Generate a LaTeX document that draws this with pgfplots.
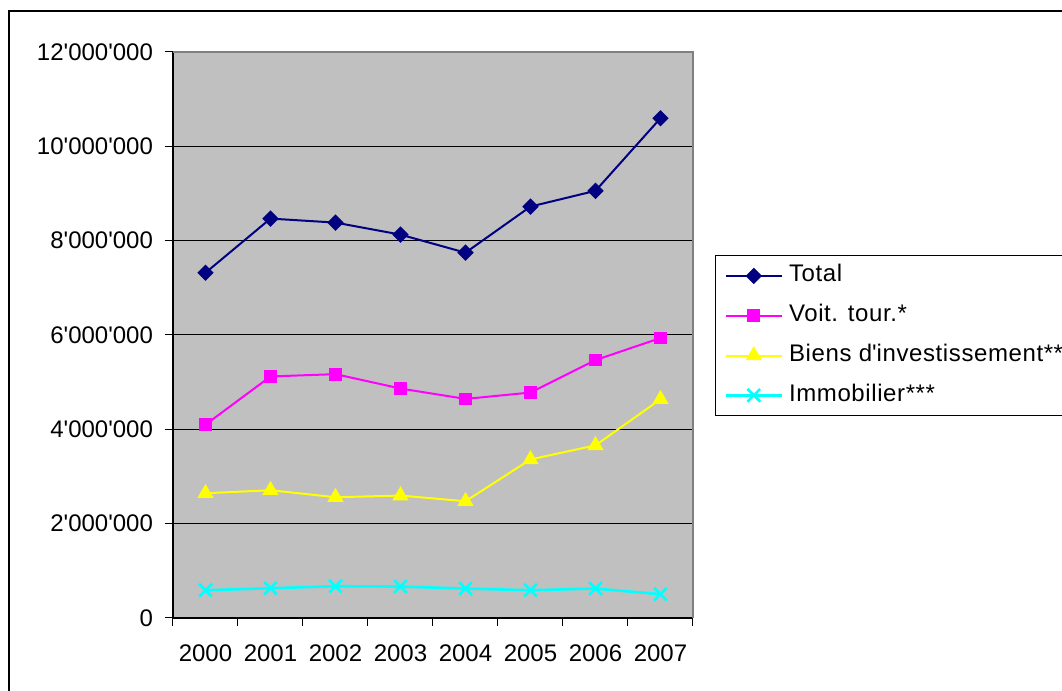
\documentclass[border=0pt]{standalone}
\usepackage{fontspec}
\setmainfont{Liberation Sans}
\newfontfamily\legendfont{Liberation Sans}[LetterSpace=2.5]
\usepackage{pgfplots}
\usepackage{pgfplotstable}
\pgfplotsset{compat=1.18}

\definecolor{xlnavy}{RGB}{0,0,128}
\definecolor{xlmagenta}{RGB}{255,0,255}
\definecolor{xlyellow}{RGB}{255,255,0}
\definecolor{xlcyan}{RGB}{0,255,255}
\definecolor{plotbg}{RGB}{192,192,192}
\definecolor{framegray}{RGB}{128,128,128}

% Imports by year; the categories span [0,1], [1,2], ... on the x axis
\pgfplotstableread{
x    total     voit     biens    immo
0.5  7319000   4099000  2645000  589000
1.5  8468000   5121000  2709000  631000
2.5  8383000   5170000  2560000  674000
3.5  8128000   4865000  2596000  667000
4.5  7745000   4645000  2475000  624000
5.5  8723000   4780000  3362000  589000
6.5  9057000   5468000  3660000  624000
7.5  10596000  5936000  4638000  504000
}\imports

\begin{document}
\begin{tikzpicture}
\begin{axis}[
  scale only axis, width=260pt, height=283pt,
  xmin=0, xmax=8, ymin=0, ymax=12000000,
  axis x line=bottom, axis y line=left,
  axis line style={-, black, line width=0.6pt},
  clip=false,
  axis background/.style={fill=plotbg},
  scaled y ticks=false,
  ytick={0,2000000,4000000,6000000,8000000,10000000,12000000},
  /pgf/number format/fixed,
  /pgf/number format/1000 sep={\textquotesingle},
  /pgf/number format/assume math mode=true,
  xtick={0,1,2,3,4,5,6,7,8},
  xticklabels={2000,2001,2002,2003,2004,2005,2006,2007,{}},
  xticklabel style={xshift=16.25pt, yshift=-6pt},
  yticklabel style={xshift=-2.5pt},
  tick align=outside,
  major tick length=4pt,
  tick style={black, line width=0.5pt},
  ymajorgrids,
  major grid style={black, line width=0.5pt},
  tick label style={font=\fontsize{12}{14}\selectfont},
  legend cell align=left,
  legend image code/.code={\draw[mark repeat=2,mark phase=2,#1]
      plot coordinates {(0pt,0pt) (14pt,0pt) (28pt,0pt)};},
  legend style={at={(axis description cs:1.0423,0.6413)}, anchor=north west,
      draw=black, line width=0.5pt, font=\legendfont\fontsize{12}{14}\selectfont,
      inner xsep=4.5pt, inner ysep=4.2pt, row sep=7.9pt, column sep=3pt,
      nodes={inner sep=0pt, text height=9pt, text depth=3pt}},
]
\addplot[xlnavy, line width=1pt, mark=square*, mark size=2.4pt,
  mark options={rotate=45, solid}] table[x=x, y=total] {\imports};
\addlegendentry{Total}
\addplot[xlmagenta, line width=1pt, mark=square*, mark size=2.7pt]
  table[x=x, y=voit] {\imports};
\addlegendentry{Voit. tour.*}
\addplot[xlyellow, line width=1pt, mark=triangle*, mark size=3.7pt]
  table[x=x, y=biens] {\imports};
\addlegendentry{Biens d\textquotesingle investissement**}
\addplot[xlcyan, line width=1.3pt, mark=x, mark size=4.5pt]
  table[x=x, y=immo] {\imports};
\addlegendentry{Immobilier***}
% grey top and right edge of the plot area
\draw[framegray, line width=0.6pt] (rel axis cs:0,1) -- (rel axis cs:1,1) -- (rel axis cs:1,0);
\end{axis}
% page and outer chart frame, in units of half a point from the plot's lower left corner
\pgfresetboundingbox
\begin{scope}[x=0.5pt,y=0.5pt]
\useasboundingbox (-173,-73) rectangle (889,618);
\draw[line width=0.6pt] (889,607) -- (-164,607) -- (-164,-73);
\end{scope}
\end{tikzpicture}
\end{document}
